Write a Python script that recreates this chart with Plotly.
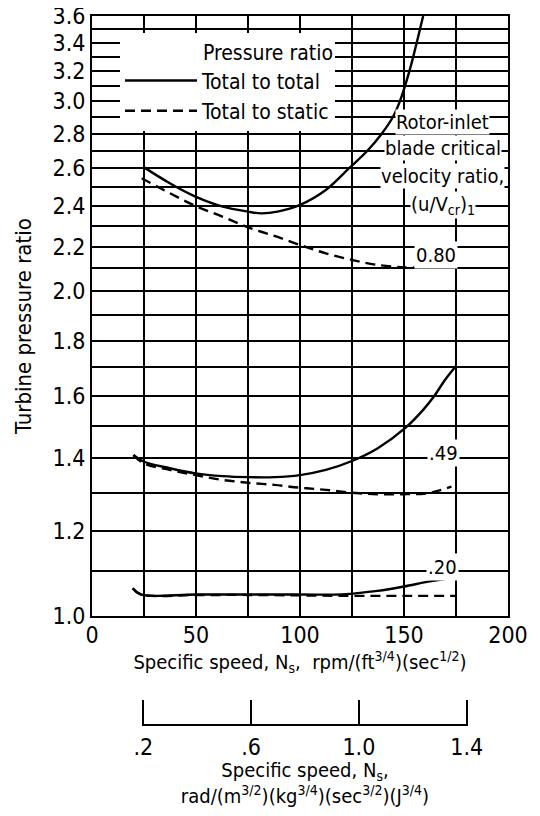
import numpy as np
import plotly.graph_objects as go

FONT = "Liberation Sans Narrow, DejaVu Sans Condensed, Roboto Condensed, Arial Narrow, sans-serif"

# ---- data (x = specific speed, rpm/(ft^3/4)(sec^1/2)) ----
# (u/Vcr)1 = 0.80
ns_tt_080 = [24.5, 37.4, 49.75, 62.9, 75, 81.5, 89.2, 100, 112.4, 123.5, 132.4, 139.3, 144.6, 148.0, 152.6, 156.1, 159.2]
pr_tt_080 = [2.61, 2.519, 2.448, 2.396, 2.371, 2.362, 2.371, 2.405, 2.483, 2.60, 2.70, 2.80, 2.90, 3.0, 3.2, 3.4, 3.6]
ns_ts_080 = [23.9, 37.4, 49.75, 62.9, 75, 87.7, 100, 112.4, 125.3, 137.2, 150, 155]
pr_ts_080 = [2.546, 2.466, 2.400, 2.345, 2.293, 2.251, 2.208, 2.169, 2.138, 2.116, 2.105, 2.105]

# (u/Vcr)1 = 0.49
ns_tt_049 = [19.9, 25, 37.4, 49.75, 62.9, 75, 87.7, 100, 112.4, 125.3, 137.2, 150.8, 159.1, 164.1, 169.7, 175]
pr_tt_049 = [1.410, 1.390, 1.371, 1.356, 1.348, 1.345, 1.345, 1.351, 1.366, 1.393, 1.430, 1.495, 1.552, 1.595, 1.655, 1.705]
ns_ts_049 = [19.9, 25, 37.4, 49.75, 62.9, 75, 87.7, 100, 112.4, 125.3, 137.2, 150, 160.4, 166.6, 172.8]
pr_ts_049 = [1.410, 1.385, 1.366, 1.351, 1.337, 1.329, 1.323, 1.315, 1.309, 1.301, 1.297, 1.297, 1.299, 1.307, 1.318]

# (u/Vcr)1 = 0.20
ns_tt_020 = [19.6, 23.5, 50, 75, 100, 120.2, 125.3, 137.2, 150, 161.6, 175]
pr_tt_020 = [1.061, 1.047, 1.047, 1.047, 1.047, 1.047, 1.049, 1.055, 1.065, 1.076, 1.086]
ns_ts_020 = [19.6, 23.5, 50, 75, 100, 125.3, 150, 175]
pr_ts_020 = [1.061, 1.047, 1.046, 1.046, 1.045, 1.044, 1.044, 1.044]

# curve labels
ratio_labels = ["0.80", ".49", ".20"]
ratio_label_x = [165.6, 168.8, 168.3]
ratio_label_y = [2.16, 1.416, 1.11]

# parameter caption (one text per line)
caption_lines = ["Rotor-inlet", "blade critical", "velocity ratio,", "(u/V<sub>cr</sub>)<sub>1</sub>"]

# axes ticks
x_ticks = [0, 25, 50, 75, 100, 125, 150, 175, 200]
x_ticktext = ["0", "", "50", "", "100", "", "150", "", "200"]
y_ticks = [round(1.0 + 0.1 * i, 1) for i in range(27)]
y_ticktext = [f"{v:.1f}" if i % 2 == 0 else "" for i, v in enumerate(y_ticks)]
si_ticks = [0.2, 0.6, 1.0, 1.4]
si_ticktext = [".2", ".6", "1.0", "1.4"]

# ---- layout geometry (page pixels; the page body adds an 8 px offset) ----
OFF = 8
W, H = 540 - OFF, 816 - 2 * OFF
ML = 92 - OFF
MR = W - (508 - OFF)
MT = 16 - OFF
MB = 0
PW = W - ML - MR
PH = H - MT - MB


def py(page_y):
    """page y pixel -> paper fraction"""
    return (H - MB - (page_y - OFF)) / PH


def px(page_x):
    """page x pixel -> paper fraction"""
    return (page_x - OFF - ML) / PW


y_dom0 = py(616)
x2_pos = py(725)
# secondary axis: .2 sits at page x 143.3 and 1.4 at 466.7; pad the range a hair so end ticks show
X2_PAD = 0.004
x2_scale = (466.7 - 143.3) / (si_ticks[-1] - si_ticks[0])
x2_dom = [px(143.3 - X2_PAD * x2_scale), px(466.7 + X2_PAD * x2_scale)]
x2_range = [si_ticks[0] - X2_PAD, si_ticks[-1] + X2_PAD]

fig = go.Figure()

LW = 2.4
DASH = "10px,6px"


def add(xs, ys, dash, name=None, show=False):
    fig.add_trace(go.Scatter(
        x=xs, y=ys, mode="lines",
        line=dict(color="black", width=LW, dash=dash, shape="spline", smoothing=1.0),
        name=name, showlegend=show, hoverinfo="skip",
    ))


add(ns_tt_080, pr_tt_080, "solid", "Total to total", True)
add(ns_ts_080, pr_ts_080, DASH, "Total to static", True)
add(ns_tt_049, pr_tt_049, "solid")
add(ns_ts_049, pr_ts_049, DASH)
add(ns_ts_020, pr_ts_020, DASH)
add(ns_tt_020, pr_tt_020, "solid")

# empty trace that carries the secondary (SI) specific-speed axis
fig.add_trace(go.Scatter(x=si_ticks, y=[None] * len(si_ticks), xaxis="x2", yaxis="y",
                         mode="lines", showlegend=False, hoverinfo="skip"))

annotations = []
for t, x, y in zip(ratio_labels, ratio_label_x, ratio_label_y):
    annotations.append(dict(
        x=x, y=np.log10(y), xref="x", yref="y", text=t, showarrow=False,
        font=dict(family=FONT, size=20, color="black"), bgcolor="white",
        xanchor="center", yanchor="middle", borderpad=1,
    ))

caption_page_y = [122, 148, 176, 205]
for t, yy in zip(caption_lines, caption_page_y):
    annotations.append(dict(
        x=168.7, y=py(yy), xref="x", yref="paper", text=t,
        showarrow=False, xanchor="center", yanchor="middle",
        font=dict(family=FONT, size=20, color="black"), bgcolor="white", borderpad=0,
    ))

annotations.append(dict(
    x=px(24), y=py(327), xref="paper", yref="paper",
    text="Turbine pressure ratio", textangle=-90, showarrow=False,
    xanchor="center", yanchor="middle",
    font=dict(family=FONT, size=22, color="black"),
))

TICKFONT = dict(family=FONT, size=23, color="black")

fig.update_layout(
    width=W, height=H,
    margin=dict(l=ML, r=MR, t=MT, b=MB),
    paper_bgcolor="white", plot_bgcolor="rgba(0,0,0,0)",
    font=dict(family=FONT, size=20, color="black"),
    showlegend=True,
    legend=dict(
        x=px(120), y=py(33), xanchor="left", yanchor="top",
        bgcolor="white", borderwidth=0,
        font=dict(family=FONT, size=21, color="black"),
        title=dict(text="Pressure ratio", side="top right", font=dict(family=FONT, size=21, color="black")),
        itemwidth=72, tracegroupgap=0,
    ),
    xaxis=dict(
        range=[0, 200], domain=[0, 1], tickmode="array", tickvals=x_ticks, ticktext=x_ticktext,
        showgrid=True, gridcolor="black", gridwidth=1.5,
        showline=True, linecolor="black", linewidth=2, mirror=True,
        ticks="", ticklabelstandoff=-3, zeroline=False, automargin=False,
        tickfont=TICKFONT,
        title=dict(text="Specific speed, N<sub>s</sub>,  rpm/(ft<sup>3/4</sup>)(sec<sup>1/2</sup>)",
                   font=dict(family=FONT, size=20, color="black"), standoff=6),
    ),
    yaxis=dict(
        type="log", range=[np.log10(1.0), np.log10(3.6)], domain=[y_dom0, 1],
        tickmode="array", tickvals=y_ticks, ticktext=y_ticktext,
        showgrid=True, gridcolor="black", gridwidth=1.5,
        showline=True, linecolor="black", linewidth=2, mirror=True,
        ticks="", zeroline=False, automargin=False, ticklabeloverflow="allow",
        tickfont=TICKFONT,
    ),
    xaxis2=dict(
        range=x2_range, domain=x2_dom, anchor="free", position=x2_pos, side="bottom",
        tickmode="array", tickvals=si_ticks, ticktext=si_ticktext,
        showgrid=False, zeroline=False, showline=True, linecolor="black", linewidth=2,
        ticks="inside", ticklen=24, tickwidth=2, tickcolor="black",
        ticklabelstandoff=1, automargin=False,
        tickfont=TICKFONT,
        title=dict(text="Specific speed, N<sub>s</sub>,<br>rad/(m<sup>3/2</sup>)(kg<sup>3/4</sup>)(sec<sup>3/2</sup>)(J<sup>3/4</sup>)",
                   font=dict(family=FONT, size=20, color="black"), standoff=2),
    ),
    annotations=annotations,
)

fig.write_html("out.html")
